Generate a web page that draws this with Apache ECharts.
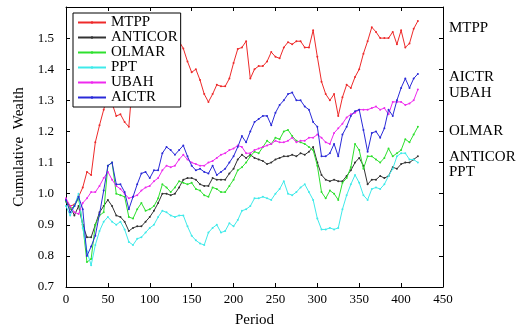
<!DOCTYPE html>
<html>
<head>
<meta charset="utf-8">
<script src="https://cdn.jsdelivr.net/npm/echarts@6/dist/echarts.min.js"></script>
<style>
  html, body { margin: 0; background: #fff; }
  #chart { width: 532px; height: 333px; }
</style>
</head>
<body>
<div id="chart"></div>
<script>
// periods sampled every 5 trading periods
const periods = [0, 5, 10, 15, 20, 25, 30, 35, 40, 45, 50, 55, 60, 65, 70, 75, 80, 85, 90, 95,
  100, 105, 110, 115, 120, 125, 130, 135, 140, 145, 150, 155, 160, 165, 170, 175, 180, 185, 190, 195,
  200, 205, 210, 215, 220, 225, 230, 235, 240, 245, 250, 255, 260, 265, 270, 275, 280, 285, 290, 295,
  300, 305, 310, 315, 320, 325, 330, 335, 340, 345, 350, 355, 360, 365, 370, 375, 380, 385, 390, 395,
  400, 405, 410, 415, 420];

const mtpp = [0.98, 0.96, 0.965, 0.99, 1.02, 1.07, 1.06, 1.165, 1.22, 1.27, 1.32, 1.29, 1.25, 1.255, 1.23, 1.215, 1.38, 1.40, 1.42, 1.39,
  1.43, 1.45, 1.42, 1.46, 1.44, 1.48, 1.46, 1.49, 1.467, 1.425, 1.39, 1.40, 1.365, 1.32, 1.295, 1.32, 1.35, 1.345, 1.345, 1.37,
  1.42, 1.465, 1.47, 1.49, 1.37, 1.40, 1.41, 1.41, 1.425, 1.455, 1.44, 1.435, 1.47, 1.487, 1.48, 1.49, 1.49, 1.47, 1.47, 1.525,
  1.44, 1.36, 1.32, 1.30, 1.32, 1.25, 1.31, 1.35, 1.34, 1.375, 1.40, 1.45, 1.49, 1.535, 1.52, 1.50, 1.50, 1.50, 1.52, 1.48,
  1.525, 1.47, 1.483, 1.53, 1.555];

const anticor = [0.975, 0.96, 0.93, 0.96, 0.90, 0.86, 0.86, 0.90, 0.94, 0.96, 0.98, 0.96, 0.93, 0.925, 0.91, 0.88, 0.89, 0.895, 0.895, 0.91,
  0.925, 0.945, 0.97, 1.0, 1.0, 0.995, 1.0, 1.02, 1.045, 1.05, 1.05, 1.045, 1.03, 1.025, 1.025, 1.05, 1.045, 1.045, 1.045, 1.065,
  1.08, 1.11, 1.125, 1.115, 1.125, 1.115, 1.11, 1.105, 1.095, 1.10, 1.11, 1.115, 1.12, 1.12, 1.125, 1.12, 1.13, 1.125, 1.135, 1.15,
  1.10, 1.06, 1.045, 1.04, 1.045, 1.04, 1.04, 1.057, 1.075, 1.10, 1.115, 1.09, 1.03, 1.045, 1.045, 1.057, 1.05, 1.057, 1.085, 1.08,
  1.095, 1.10, 1.10, 1.11, 1.12];

const olmar = [0.975, 0.95, 0.96, 0.985, 0.90, 0.78, 0.79, 0.90, 0.93, 0.94, 1.09, 1.10, 1.0, 0.995, 0.99, 0.925, 0.92, 0.95, 0.97, 0.945,
  0.95, 0.96, 0.985, 1.03, 1.02, 1.005, 1.02, 1.04, 1.035, 1.03, 1.035, 1.015, 1.01, 0.995, 0.99, 1.02, 1.015, 1.005, 1.005, 1.025,
  1.045, 1.075, 1.085, 1.10, 1.12, 1.135, 1.13, 1.15, 1.17, 1.16, 1.18, 1.175, 1.20, 1.205, 1.185, 1.17, 1.165, 1.16, 1.15, 1.14,
  1.09, 1.005, 0.985, 1.01, 1.0, 0.98, 1.035, 1.05, 1.085, 1.16, 1.14, 1.08, 1.12, 1.12, 1.11, 1.10, 1.115, 1.145, 1.12, 1.13,
  1.14, 1.175, 1.165, 1.19, 1.215];

const ppt = [0.96, 0.93, 0.96, 1.0, 0.89, 0.815, 0.77, 0.835, 0.88, 0.91, 0.925, 0.91, 0.90, 0.91, 0.885, 0.845, 0.835, 0.855, 0.86, 0.875,
  0.89, 0.90, 0.925, 0.945, 0.94, 0.93, 0.925, 0.93, 0.93, 0.895, 0.865, 0.85, 0.84, 0.835, 0.875, 0.89, 0.90, 0.875, 0.88, 0.905,
  0.895, 0.915, 0.945, 0.95, 0.96, 0.985, 0.985, 0.99, 0.985, 0.98, 1.0, 1.015, 1.04, 1.0, 0.995, 1.005, 1.02, 1.03, 1.005, 0.98,
  0.92, 0.885, 0.885, 0.89, 0.885, 0.89, 0.95, 0.995, 1.03, 1.06, 1.035, 0.995, 0.98, 1.015, 1.02, 1.015, 1.03, 1.057, 1.08, 1.12,
  1.13, 1.13, 1.11, 1.11, 1.10];

const ubah = [0.985, 0.96, 0.94, 0.935, 0.97, 0.985, 1.005, 1.005, 1.025, 1.05, 1.07, 1.045, 1.025, 1.015, 1.0, 0.985, 0.99, 0.995, 1.01, 1.02,
  1.025, 1.04, 1.05, 1.075, 1.09, 1.085, 1.09, 1.11, 1.125, 1.11, 1.10, 1.095, 1.09, 1.09, 1.10, 1.105, 1.115, 1.125, 1.13, 1.14,
  1.145, 1.155, 1.15, 1.13, 1.13, 1.14, 1.145, 1.15, 1.155, 1.16, 1.17, 1.165, 1.165, 1.17, 1.18, 1.165, 1.17, 1.17, 1.18, 1.18,
  1.19, 1.18, 1.165, 1.16, 1.195, 1.21, 1.225, 1.245, 1.255, 1.26, 1.27, 1.27, 1.27, 1.275, 1.28, 1.27, 1.275, 1.255, 1.295, 1.295,
  1.295, 1.285, 1.29, 1.30, 1.335];

const aictr = [0.98, 0.94, 0.96, 0.99, 0.95, 0.80, 0.83, 0.865, 0.935, 1.01, 1.09, 1.10, 1.03, 1.03, 1.005, 0.95, 0.99, 1.03, 1.065, 1.07,
  1.05, 1.075, 1.075, 1.13, 1.15, 1.14, 1.125, 1.14, 1.155, 1.12, 1.09, 1.075, 1.08, 1.07, 1.065, 1.09, 1.06, 1.07, 1.08, 1.10,
  1.12, 1.15, 1.185, 1.165, 1.20, 1.23, 1.24, 1.25, 1.25, 1.22, 1.26, 1.285, 1.30, 1.32, 1.325, 1.30, 1.30, 1.28, 1.27, 1.23,
  1.215, 1.12, 1.12, 1.13, 1.16, 1.12, 1.19, 1.215, 1.25, 1.265, 1.27, 1.205, 1.135, 1.195, 1.20, 1.18, 1.21, 1.27, 1.25, 1.30,
  1.34, 1.37, 1.34, 1.37, 1.385];

const seriesNames = ['MTPP', 'ANTICOR', 'OLMAR', 'PPT', 'UBAH', 'AICTR'];
const seriesValues = [mtpp, anticor, olmar, ppt, ubah, aictr];
const seriesColors = ['#ee2a2a', '#333333', '#2ee02e', '#3feaea', '#ee2aee', '#2a2ad8'];

const xTicks = { min: 0, max: 450, interval: 50 };
const yTicks = { min: 0.7, max: 1.6, interval: 0.1 };

const FONT = '"Liberation Serif", "DejaVu Serif", serif';

const chart = echarts.init(document.getElementById('chart'), null, { renderer: 'canvas' });

const frameLine = { show: true, onZero: false, lineStyle: { color: '#000', width: 1 } };
const tickIn = { show: true, inside: true, length: 4, lineStyle: { color: '#000', width: 1 } };

const option = {
  animation: false,
  backgroundColor: '#fff',
  grid: { left: 66, right: 89, top: 7, bottom: 43 },
  legend: {
    orient: 'vertical',
    left: 73,
    top: 13,
    padding: [2, 3, 2, 4],
    itemGap: 0,
    itemWidth: 28,
    itemHeight: 3,
    backgroundColor: '#fff',
    borderColor: '#000',
    borderWidth: 1,
    textStyle: { fontFamily: FONT, fontSize: 15, color: '#000', lineHeight: 15 },
    data: seriesNames
  },
  xAxis: [
    {
      type: 'value', position: 'bottom', ...xTicks,
      axisLine: frameLine, axisTick: tickIn, splitLine: { show: false },
      axisLabel: { color: '#000', fontFamily: FONT, fontSize: 13, margin: 6 },
      name: 'Period', nameLocation: 'middle', nameGap: 26,
      nameTextStyle: { color: '#000', fontFamily: FONT, fontSize: 15 }
    },
    {
      type: 'value', position: 'top', ...xTicks,
      axisLine: frameLine, axisTick: tickIn, splitLine: { show: false },
      axisLabel: { show: false }
    }
  ],
  yAxis: [
    {
      type: 'value', position: 'left', ...yTicks,
      axisLine: frameLine, axisTick: tickIn, splitLine: { show: false },
      axisLabel: {
        color: '#000', fontFamily: FONT, fontSize: 13, margin: 12,
        formatter: (v) => (v > 1.55 ? '' : v.toFixed(1))
      },
      name: 'Cumulative  Wealth', nameLocation: 'middle', nameGap: 32,
      nameTextStyle: { color: '#000', fontFamily: FONT, fontSize: 15 }
    },
    {
      type: 'value', position: 'right', ...yTicks,
      axisLine: frameLine, axisTick: tickIn, splitLine: { show: false },
      axisLabel: { show: false }
    }
  ],
  graphic: [
    { type: 'text', x: 449, y: 28, style: { text: 'MTPP', font: '15px ' + FONT, fill: '#000', verticalAlign: 'middle' } },
    { type: 'text', x: 449, y: 77, style: { text: 'AICTR', font: '15px ' + FONT, fill: '#000', verticalAlign: 'middle' } },
    { type: 'text', x: 449, y: 93, style: { text: 'UBAH', font: '15px ' + FONT, fill: '#000', verticalAlign: 'middle' } },
    { type: 'text', x: 449, y: 131, style: { text: 'OLMAR', font: '15px ' + FONT, fill: '#000', verticalAlign: 'middle' } },
    { type: 'text', x: 449, y: 157, style: { text: 'ANTICOR', font: '15px ' + FONT, fill: '#000', verticalAlign: 'middle' } },
    { type: 'text', x: 449, y: 172, style: { text: 'PPT', font: '15px ' + FONT, fill: '#000', verticalAlign: 'middle' } }
  ],
  series: seriesNames.map((name, i) => ({
    name,
    type: 'line',
    data: periods.map((p, j) => [p, seriesValues[i][j]]),
    symbol: 'circle',
    symbolSize: 2,
    showAllSymbol: true,
    lineStyle: { width: 1, color: seriesColors[i] },
    itemStyle: { color: seriesColors[i] },
    z: 2 + i * 0.01
  }))
};

chart.setOption(option);
</script>
</body>
</html>
